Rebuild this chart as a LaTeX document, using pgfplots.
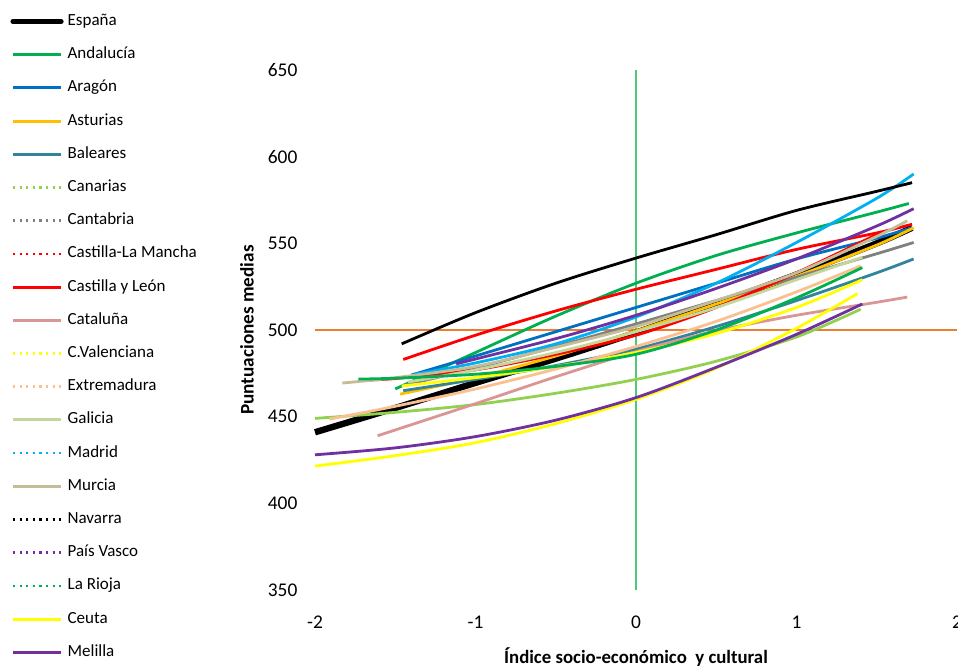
\documentclass[border=0pt]{standalone}
\usepackage{pgfplots}
\pgfplotsset{compat=1.18}
\usepackage{fontspec}
\setmainfont{Carlito}
\definecolor{cAnd}{HTML}{00B050}
\definecolor{cAra}{HTML}{0070C0}
\definecolor{cAst}{HTML}{FFC000}
\definecolor{cBal}{HTML}{31849B}
\definecolor{cCan}{HTML}{92D050}
\definecolor{cCnt}{HTML}{808080}
\definecolor{cRed}{HTML}{FF0000}
\definecolor{cCat}{HTML}{D99694}
\definecolor{cYel}{HTML}{FFFF00}
\definecolor{cExt}{HTML}{FAC090}
\definecolor{cGal}{HTML}{C3D69B}
\definecolor{cMad}{HTML}{00B0F0}
\definecolor{cMur}{HTML}{C4BD97}
\definecolor{cPur}{HTML}{7030A0}
\definecolor{cVert}{HTML}{50C878}
\definecolor{cHor}{HTML}{ED7D31}
\begin{document}
\begin{tikzpicture}
\path[use as bounding box] (0,0) rectangle (479pt,333pt);
\begin{axis}[
  at={(157.5pt,38pt)}, anchor=south west,
  scale only axis, width=321pt, height=260pt,
  xmin=-2, xmax=2, ymin=350, ymax=650,
  xtick={-2,-1,0,1,2}, ytick={350,400,450,500,550,600,650},
  axis line style={draw=none}, tick style={draw=none},
  clip=false,
  /pgf/number format/assume math mode=true,
  tick label style={font=\fontsize{9.7}{11}\selectfont},
  xticklabel style={yshift=-9.3pt},
  yticklabel style={xshift=-5.3pt},
  xlabel={\textbf{Índice socio-económico\ \ y cultural}},
  xlabel style={at={(axis description cs:0.5,-0.129)}, anchor=center, font=\fontsize{9.4}{11}\selectfont},
  ylabel={\textbf{Puntuaciones medias}},
  ylabel style={at={(axis description cs:-0.106,0.5)}, anchor=center, font=\fontsize{9.6}{11}\selectfont},
  legend cell align=left,
  legend style={at={(axis description cs:-0.475,1.1095)}, anchor=north west, draw=none, fill=none,
    inner sep=0pt, row sep=8.6pt, column sep=2pt,
    font=\fontsize{8.5}{10}\selectfont,
    nodes={inner sep=0pt, text height=6pt, text depth=2pt}},
  legend image code/.code={\draw[#1] (0pt,0pt) -- (24pt,0pt);},
  every axis plot/.append style={line width=1.4pt, smooth},
]
% reference lines
\addplot[forget plot, cVert, line width=1pt, sharp plot] coordinates {(0,350) (0,650)};
\addplot[forget plot, cHor, line width=0.6pt, sharp plot] coordinates {(-2,500) (2,500)};
% España
\addplot[forget plot, black, line width=3.2pt] coordinates {(-2,441) (-1.5,455) (-1,469.5) (-0.5,483.5) (0,498.5) (0.5,515) (1,532) (1.5,550) (1.72,559)};
% Andalucía
\addplot[forget plot, cAnd] coordinates {(-1.5,466) (-1,487) (-0.5,508) (0,527) (0.5,543) (1,556) (1.5,568) (1.7,573)};
% Aragón
\addplot[forget plot, cAra] coordinates {(-1.4,474) (-1,485) (-0.5,499) (0,513) (0.5,527) (1,541) (1.5,553) (1.72,559)};
% Asturias
\addplot[forget plot, cAst] coordinates {(-1.47,463) (-1,472.5) (-0.5,485) (0,499.5) (0.5,515) (1,531) (1.5,549) (1.73,559)};
% Baleares
\addplot[forget plot, cBal] coordinates {(-1.45,465) (-1,471.5) (-0.5,479.5) (0,489) (0.5,502) (1,517) (1.5,533) (1.73,541)};
% Canarias
\addplot[forget plot, cCan] coordinates {(-2,449) (-1.5,452.5) (-1,457) (-0.5,463.5) (0,471.5) (0.5,482) (1,496) (1.4,512)};
% Cantabria
\addplot[forget plot, cCnt] coordinates {(-1.45,468) (-1,478) (-0.5,490.5) (0,503.5) (0.5,517) (1,530.5) (1.5,544) (1.73,550.5)};
% Castilla-La Mancha
\addplot[forget plot, cRed] coordinates {(-1.72,471) (-1.5,472) (-1,477) (-0.5,486) (0,497) (0.5,513) (1,533) (1.52,556)};
% Castilla y León
\addplot[forget plot, cRed] coordinates {(-1.45,483) (-1,497) (-0.5,511) (0,523.5) (0.5,535) (1,546.5) (1.5,556) (1.72,561)};
% Cataluña
\addplot[forget plot, cCat] coordinates {(-1.61,439) (-1,457.5) (-0.5,473) (0,487.5) (0.5,499.5) (1,508.5) (1.5,516) (1.69,519)};
% C.Valenciana
\addplot[forget plot, cYel] coordinates {(-1.46,467.7) (-1,472.5) (-0.5,479) (0,487) (0.5,498) (1,513) (1.41,529)};
% Extremadura
\addplot[forget plot, cExt] coordinates {(-1.91,448.6) (-1.5,456) (-1,466) (-0.5,477.5) (0,490.5) (0.5,505) (1,522) (1.4,537)};
% Galicia
\addplot[forget plot, cGal] coordinates {(-1.42,470) (-1,477) (-0.5,487) (0,499) (0.5,513) (1,529) (1.41,542)};
% Madrid
\addplot[forget plot, cMad] coordinates {(-1.38,474.5) (-1,481) (-0.5,492) (0,507.5) (0.5,527) (1,550.5) (1.5,576) (1.73,590)};
% Murcia
\addplot[forget plot, cMur] coordinates {(-1.83,469.4) (-1.5,472.5) (-1,479) (-0.5,490) (0,502) (0.5,517) (1,533) (1.5,554) (1.69,563)};
% Navarra
\addplot[forget plot, black] coordinates {(-1.46,492) (-1,510) (-0.5,527) (0,541.5) (0.5,555) (1,569) (1.5,580) (1.72,585)};
% País Vasco
\addplot[forget plot, cPur] coordinates {(-1.12,480.5) (-0.5,495) (0,508.5) (0.5,524) (1,541) (1.5,560) (1.73,570)};
% La Rioja
\addplot[forget plot, cAnd] coordinates {(-1.73,471.7) (-1.5,472.2) (-1,474.5) (-0.5,479) (0,486) (0.5,500) (1,518.5) (1.41,536)};
% Ceuta
\addplot[forget plot, cYel] coordinates {(-2,421.5) (-1.5,427.5) (-1,435) (-0.5,446) (0,460) (0.5,478) (1,501) (1.38,521)};
% Melilla
\addplot[forget plot, cPur] coordinates {(-2,428) (-1.5,432) (-1,438.5) (-0.5,448) (0,461) (0.5,478.5) (1,497.5) (1.41,515)};
% legend
\addlegendimage{black, line width=2.6pt, line cap=round}\addlegendentry{España}
\addlegendimage{cAnd, line width=1.5pt}\addlegendentry{Andalucía}
\addlegendimage{cAra, line width=1.5pt}\addlegendentry{Aragón}
\addlegendimage{cAst, line width=1.5pt}\addlegendentry{Asturias}
\addlegendimage{cBal, line width=1.5pt}\addlegendentry{Baleares}
\addlegendimage{cCan, line width=1.2pt, dash pattern=on 1.1pt off 2.2pt}\addlegendentry{Canarias}
\addlegendimage{cCnt, line width=1.2pt, dash pattern=on 1.1pt off 2.2pt}\addlegendentry{Cantabria}
\addlegendimage{cRed, line width=1.2pt, dash pattern=on 1.1pt off 2.2pt}\addlegendentry{Castilla-La Mancha}
\addlegendimage{cRed, line width=1.5pt}\addlegendentry{Castilla y León}
\addlegendimage{cCat, line width=1.5pt}\addlegendentry{Cataluña}
\addlegendimage{cYel, line width=1.2pt, dash pattern=on 1.1pt off 2.2pt}\addlegendentry{C.Valenciana}
\addlegendimage{cExt, line width=1.2pt, dash pattern=on 1.1pt off 2.2pt}\addlegendentry{Extremadura}
\addlegendimage{cGal, line width=1.5pt}\addlegendentry{Galicia}
\addlegendimage{cMad, line width=1.2pt, dash pattern=on 1.1pt off 2.2pt}\addlegendentry{Madrid}
\addlegendimage{cMur, line width=1.5pt}\addlegendentry{Murcia}
\addlegendimage{black, line width=1.2pt, dash pattern=on 1.1pt off 2.2pt}\addlegendentry{Navarra}
\addlegendimage{cPur, line width=1.2pt, dash pattern=on 1.1pt off 2.2pt}\addlegendentry{País Vasco}
\addlegendimage{cAnd, line width=1.2pt, dash pattern=on 1.1pt off 2.2pt}\addlegendentry{La Rioja}
\addlegendimage{cYel, line width=1.5pt}\addlegendentry{Ceuta}
\addlegendimage{cPur, line width=1.5pt}\addlegendentry{Melilla}
\end{axis}
\end{tikzpicture}
\end{document}
